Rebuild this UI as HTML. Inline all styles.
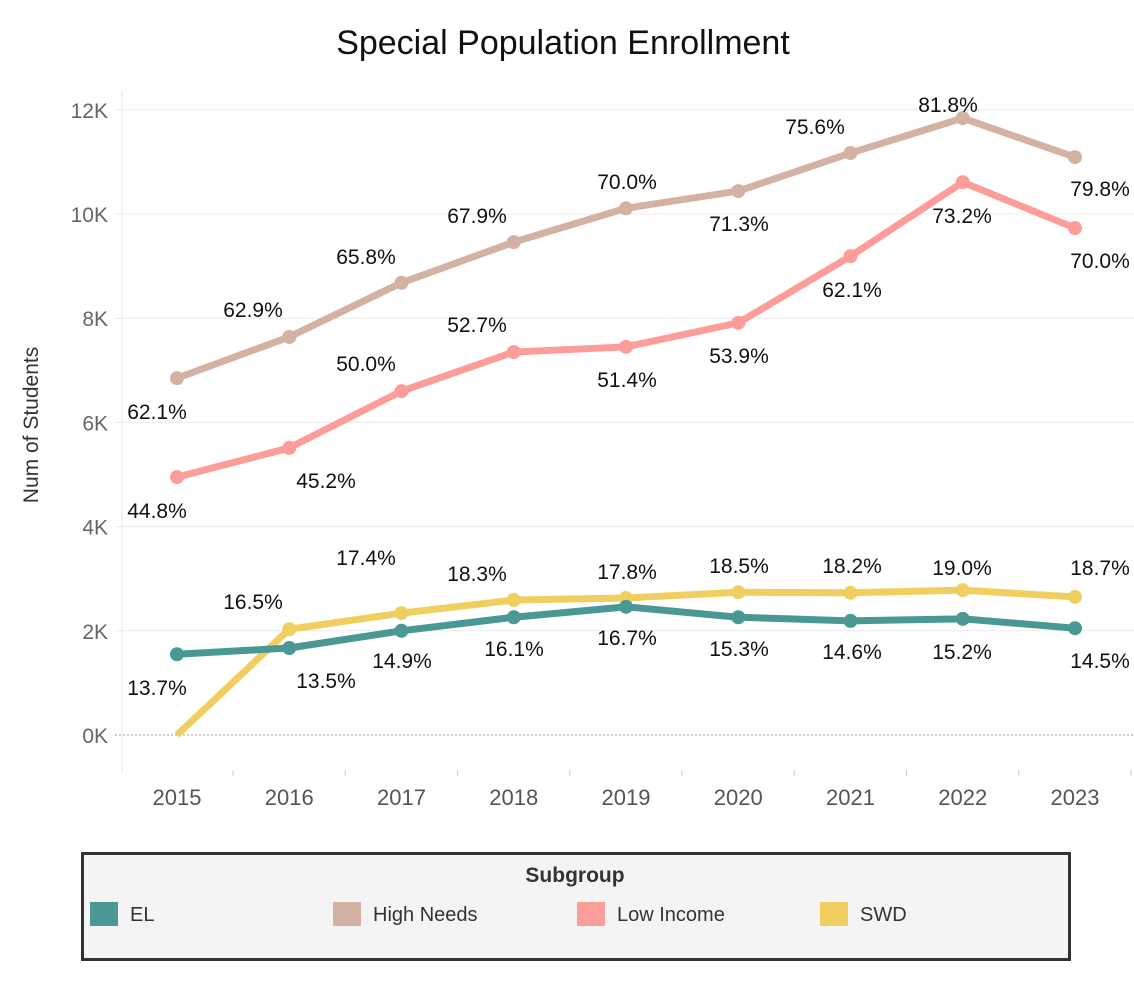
<!DOCTYPE html>
<html><head><meta charset="utf-8"><style>
body{margin:0;background:#fff;width:1134px;height:996px;overflow:hidden;font-family:"Liberation Sans",sans-serif}
</style></head><body>
<svg width="1134" height="996" font-family="Liberation Sans, sans-serif">
<text x="563" y="54" text-anchor="middle" font-size="34" fill="#111">Special Population Enrollment</text>
<text transform="translate(38,425) rotate(-90)" text-anchor="middle" font-size="21" fill="#333">Num of Students</text>
<g id="grid"></g><g id="series"></g><g id="labels"></g>
<rect x="82.5" y="853.5" width="987" height="106" fill="#f4f4f4" stroke="#333" stroke-width="3"/>
<text x="575" y="882" text-anchor="middle" font-size="21" font-weight="bold" fill="#333">Subgroup</text>
<g id="legend"></g>
</svg>
<script>
const years=[2015,2016,2017,2018,2019,2020,2021,2022,2023];
const yTicks=[0,2,4,6,8,10,12];
const highNeeds=[6.85,7.64,8.68,9.46,10.11,10.44,11.17,11.84,11.09];
const lowIncome=[4.95,5.51,6.60,7.35,7.45,7.91,9.19,10.61,9.73];
const swd=[0,2.03,2.34,2.59,2.63,2.74,2.73,2.78,2.65];
const el=[1.55,1.67,2.0,2.26,2.46,2.26,2.19,2.23,2.05];
const hnPct=["62.1%","62.9%","65.8%","67.9%","70.0%","71.3%","75.6%","81.8%","79.8%"];
const liPct=["44.8%","45.2%","50.0%","52.7%","51.4%","53.9%","62.1%","73.2%","70.0%"];
const swdPct=["","16.5%","17.4%","18.3%","17.8%","18.5%","18.2%","19.0%","18.7%"];
const elPct=["13.7%","13.5%","14.9%","16.1%","16.7%","15.3%","14.6%","15.2%","14.5%"];
const X=i=>177+i*112.25, Y=v=>735-v*52.1;
const NS="http://www.w3.org/2000/svg";
function mk(t,a,p){const e=document.createElementNS(NS,t);for(const k in a)e.setAttribute(k,a[k]);document.getElementById(p)?document.getElementById(p).appendChild(e):document.querySelector('svg').appendChild(e);return e;}
// axes
let ax=mk('line',{x1:122,y1:90,x2:122,y2:772,stroke:'#e6e6e6'},'grid');


yTicks.forEach(t=>{
 let g=mk('line',{x1:115,x2:1134,y1:Y(t),y2:Y(t),stroke:t==0?'#999':'#ececec','stroke-dasharray':t==0?'2,2':'none'},'grid');
 
 
 let l=mk('text',{x:108,y:Y(t)+8,'text-anchor':'end','font-size':21,fill:'#666'},'grid');l.textContent=t+'K';
 
 
});
years.forEach((y,i)=>{
 let tk=mk('line',{x1:X(i)+56,x2:X(i)+56,y1:770,y2:776,stroke:'#ccc'},'grid');
 
 
 let l=mk('text',{x:X(i),y:805,'text-anchor':'middle','font-size':22,fill:'#555'},'grid');l.textContent=y;
 
 
});
const lx=[[157,253,366,477,627,739,815,948,1100],[157,326,366,477,627,739,852,962,1100],[0,253,366,477,627,739,852,962,1100],[157,326,402,514,627,739,852,962,1100]];
const ly=[[411,309,256,215,181,223,126,104,188],[510,480,363,324,379,355,289,215,260],[0,601,557,573,571,565,565,567,567],[687,680,660,648,637,648,651,651,660]];
const series=[["high-needs",highNeeds,hnPct,"#d4b2a3"],["low-income",lowIncome,liPct,"#fc9d9a"],["swd",swd,swdPct,"#f0cf60"],["el",el,elPct,"#499894"]];
series.forEach((s,si)=>{
 let p=mk('polyline',{points:s[1].map((v,i)=>X(i)+','+Y(v)).join(' '),fill:'none',stroke:s[3],'stroke-width':7,'stroke-linejoin':'round'},'series');
 
 
 s[1].forEach((v,i)=>{
  if(!(si==2&&i==0)){let c=mk('circle',{cx:X(i),cy:Y(v),r:7,fill:s[3]},'series');
  
  }
  if(s[2][i]){let t=mk('text',{x:lx[si][i],y:ly[si][i]+8,'text-anchor':'middle','font-size':21,fill:'#111'},'labels');t.textContent=s[2][i];
  
  }
 });
});
const leg=[["EL","#499894",90],["High Needs","#d4b2a3",333],["Low Income","#fc9d9a",577],["SWD","#f0cf60",820]];
leg.forEach(l=>{
 let r=mk('rect',{x:l[2],y:902,width:28,height:24,fill:l[1]},'legend');
 
 
 let t=mk('text',{x:l[2]+40,y:921,'font-size':20,fill:'#333'},'legend');t.textContent=l[0];
 
 
});
</script>
</body></html>
